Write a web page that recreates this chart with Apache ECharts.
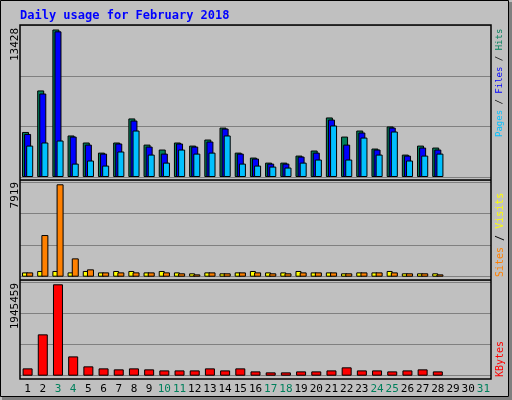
<!DOCTYPE html>
<html>
<head>
<meta charset="utf-8">
<script src="https://cdn.jsdelivr.net/npm/echarts@6/dist/echarts.min.js"></script>
<style>html,body{margin:0;padding:0;background:#c0c0c0}#chart{width:512px;height:400px}</style>
</head>
<body>
<div id="chart"></div>
<script>
// day labels and values
var days = [];
for (var d = 1; d <= 31; d++) days.push(String(d));
var weekendDays = ['3', '4', '10', '11', '17', '18', '24', '25', '31'];

var hits = [4100, 7880, 13428, 3780, 3140, 2220, 3140, 5330, 2950, 2500, 3140, 2860, 3410, 4500, 2220, 1770, 1310, 1310, 1950, 2410, 5420, 3680, 4230, 2590, 4600, 2040, 2860, 2680];
var files = [3920, 7600, 13260, 3680, 2950, 2130, 3050, 5140, 2770, 2130, 3050, 2770, 3230, 4410, 2130, 1680, 1220, 1220, 1860, 2220, 5230, 2950, 4050, 2500, 4500, 1950, 2680, 2500];
var pages = [2860, 3140, 3320, 1220, 1500, 1040, 2320, 4230, 2040, 1310, 2500, 2130, 2220, 3780, 1220, 1040, 950, 860, 1310, 1590, 4690, 1590, 3590, 2040, 4140, 1500, 1950, 2130];
var visits = [370, 490, 490, 370, 490, 370, 490, 490, 370, 490, 370, 290, 370, 290, 370, 490, 370, 370, 490, 370, 370, 290, 370, 370, 490, 290, 290, 290];
var sites = [370, 3570, 7919, 1570, 630, 370, 370, 370, 370, 370, 290, 200, 370, 290, 370, 370, 290, 290, 370, 370, 370, 290, 370, 370, 370, 290, 290, 200];
var kbytes = [156000, 880000, 1945459, 411000, 199000, 156000, 135000, 156000, 135000, 113000, 113000, 113000, 156000, 113000, 156000, 92000, 71000, 71000, 92000, 92000, 113000, 178000, 113000, 113000, 92000, 113000, 135000, 92000];

var chart = echarts.init(document.getElementById('chart'));
var mono = 'DejaVu Sans Mono';

function xAx(gi, showLabels) {
    return {
        type: 'category', gridIndex: gi, data: days,
        axisLine: { show: false }, axisTick: { show: false },
        axisLabel: {
            show: showLabels, margin: 8, fontFamily: mono, fontSize: 11,
            interval: 0,
            color: function (v) { return weekendDays.indexOf(v) >= 0 ? '#00805c' : '#000'; }
        }
    };
}
function yAx(gi, max, interval) {
    return {
        type: 'value', gridIndex: gi, min: 0, max: max, interval: interval,
        axisLine: { show: false }, axisTick: { show: false }, axisLabel: { show: false },
        splitLine: { lineStyle: { color: '#808080', width: 1 } }
    };
}
function bar(name, data, color, gi, width, gap) {
    return {
        name: name, type: 'bar', data: data, xAxisIndex: gi, yAxisIndex: gi,
        barWidth: width, barGap: gap, animation: false,
        itemStyle: { color: color, borderColor: '#000', borderWidth: 1 }
    };
}
function sideText(x, y, rich, parts, size) {
    return {
        type: 'text', x: x, y: y, rotation: Math.PI / 2,
        style: { text: parts, rich: rich, font: size + 'px ' + mono, align: 'left', verticalAlign: 'middle' }
    };
}

var option = {
    backgroundColor: '#c0c0c0',
    animation: false,
    grid: [
        { left: 20, right: 21, top: 25, height: 152 },
        { left: 20, right: 21, top: 180, height: 96.7 },
        { left: 20, right: 21, top: 280, height: 95.7 }
    ],
    xAxis: [xAx(0, false), xAx(1, false), xAx(2, true)],
    yAxis: [yAx(0, 13837, 4600), yAx(1, 8287, 2700), yAx(2, 2037000, 664000)],
    series: [
        bar('Hits', hits, '#00805c', 0, 7, '-70%'),
        bar('Files', files, '#0000ff', 0, 7, '-70%'),
        bar('Pages', pages, '#00c0ff', 0, 7, '-70%'),
        bar('Visits', visits, '#ffff00', 1, 6, '-30%'),
        bar('Sites', sites, '#ff8000', 1, 7, '-30%'),
        bar('KBytes', kbytes, '#ff0000', 2, 10, '0%')
    ],
    graphic: [
        { type: 'rect', shape: { x: 0.5, y: 0.5, width: 508, height: 396 }, style: { fill: 'none', stroke: '#000', lineWidth: 1 }, z: 0 },
        { type: 'rect', shape: { x: 509, y: 2, width: 3, height: 398 }, style: { fill: '#808080' } },
        { type: 'rect', shape: { x: 2, y: 397, width: 510, height: 3 }, style: { fill: '#808080' } },
        { type: 'rect', shape: { x: 20, y: 25, width: 471, height: 354 }, style: { fill: 'none', stroke: '#000', lineWidth: 1.5 }, z: 10 },
        { type: 'line', shape: { x1: 20, y1: 180, x2: 491, y2: 180 }, style: { stroke: '#000', lineWidth: 1.5 }, z: 10 },
        { type: 'line', shape: { x1: 20, y1: 280, x2: 491, y2: 280 }, style: { stroke: '#000', lineWidth: 1.5 }, z: 10 },
        { type: 'text', x: 20, y: 16, style: { text: 'Daily usage for February 2018', font: 'bold 12px ' + mono, fill: '#0000ff', verticalAlign: 'middle' } },
        { type: 'text', x: 15, y: 28, rotation: Math.PI / 2, style: { text: '13428', font: '11px ' + mono, fill: '#000', align: 'right', verticalAlign: 'middle' } },
        { type: 'text', x: 15, y: 182, rotation: Math.PI / 2, style: { text: '7919', font: '11px ' + mono, fill: '#000', align: 'right', verticalAlign: 'middle' } },
        { type: 'text', x: 15, y: 283, rotation: Math.PI / 2, style: { text: '1945459', font: '11px ' + mono, fill: '#000', align: 'right', verticalAlign: 'middle' } },
        sideText(500, 137, {
            p: { fill: '#00c0ff' }, f: { fill: '#0000ff' }, h: { fill: '#00805c' }, s: { fill: '#000' }
        }, '{p|Pages}{s| / }{f|Files}{s| / }{h|Hits}', 9),
        sideText(500, 277, {
            a: { fill: '#ff8000' }, v: { fill: '#ffff00' }, s: { fill: '#000' }
        }, '{a|Sites}{s| / }{v|Visits}', 10),
        sideText(500, 377, { k: { fill: '#ff0000' } }, '{k|KBytes}', 10)
    ]
};
chart.setOption(option);
</script>
</body>
</html>
